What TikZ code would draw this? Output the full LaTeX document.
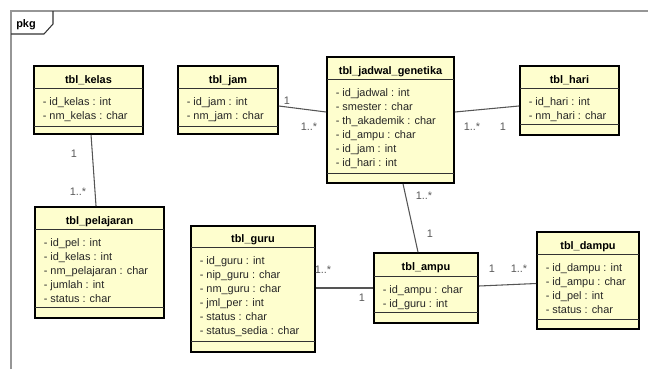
\documentclass[tikz,border=0pt]{standalone}
\usepackage{fontspec}
\setmainfont{Liberation Sans}
\usetikzlibrary{fit}
\definecolor{clsfill}{RGB}{254,254,206}
\definecolor{linegray}{RGB}{85,85,85}
\definecolor{labgray}{RGB}{90,90,90}
\definecolor{framegray}{RGB}{150,150,150}
\tikzset{
  cls/.style={draw=black, line width=1.3pt, fill=clsfill, inner sep=0pt},
  sepline/.style={draw=black!80, line width=0.7pt},
  titletext/.style={font=\fontsize{8.2}{10}\selectfont\bfseries, anchor=base, inner sep=0pt, text=black},
  attrtext/.style={font=\fontsize{8.2}{10.5}\selectfont, anchor=north west, align=left, inner sep=0pt, text=black!85},
  conn/.style={draw=linegray, line width=0.8pt},
  mult/.style={font=\fontsize{8.2}{10}\selectfont, text=labgray, inner sep=0pt}
}
% name, x1, y1, x2, y2, sep1, sep2, title, attributes
\newcommand\umlcls[9]{%
  \node[cls, fit={(#2,#3)(#4,#5)}] (#1) {};
  \draw[sepline] (#2,#6) -- (#4,#6);
  \draw[sepline] (#2,#7) -- (#4,#7);
  \node[titletext] (#1-t) at ({(#2+#4)/2},{(#3+#6)/2+6}) {#8};
  \node[attrtext] (#1-a) at (#2+8.5,#6+6.3) {\rule{0pt}{8pt}#9};
}
\begin{document}
\begin{tikzpicture}[x=0.75pt,y=-0.75pt]
\useasboundingbox (0,0) rectangle (648,369);
% frame
\draw[framegray, line width=0.8pt] (11,369) coordinate (fbl) -- (11,11) coordinate (ftl) -- (648,11) coordinate (ftr);
\draw[black!80, line width=0.8pt] (11,34) coordinate (tab1) -- (44,34) coordinate (tab2) -- (53,24) coordinate (tab3) -- (53,11) coordinate (tab4);
\node[font=\fontsize{8.2}{10}\selectfont\bfseries, anchor=base, inner sep=0pt] (pkg) at (26,27.5) {pkg};

% classes
\umlcls{kelas}{34}{66}{143}{134}{88}{126}{tbl\_kelas}{- id\_kelas : int\\- nm\_kelas : char}
\umlcls{jam}{178}{66}{278}{134}{88}{126}{tbl\_jam}{- id\_jam : int\\- nm\_jam : char}
\umlcls{jadwal}{327}{57}{454}{183}{79}{173}{tbl\_jadwal\_genetika}{- id\_jadwal : int\\- smester : char\\- th\_akademik : char\\- id\_ampu : char\\- id\_jam : int\\- id\_hari : int}
\umlcls{hari}{520}{66}{619}{135}{88}{124}{tbl\_hari}{- id\_hari : int\\- nm\_hari : char}
\umlcls{pel}{35}{207}{164}{318}{229}{307}{tbl\_pelajaran}{- id\_pel : int\\- id\_kelas : int\\- nm\_pelajaran : char\\- jumlah : int\\- status : char}
\umlcls{guru}{191}{226}{315}{352}{247}{341}{tbl\_guru}{- id\_guru : int\\- nip\_guru : char\\- nm\_guru : char\\- jml\_per : int\\- status : char\\- status\_sedia : char}
\umlcls{ampu}{374}{253}{478}{323}{276}{312}{tbl\_ampu}{- id\_ampu : char\\- id\_guru : int}
\umlcls{dampu}{537}{232}{639}{329}{254}{319}{tbl\_dampu}{- id\_dampu : int\\- id\_ampu : char\\- id\_pel : int\\- status : char}

% connectors
\draw[conn] ([xshift=1.9pt]kelas.south) -- ([xshift=-2.6pt]pel.north);
\draw[conn] ([yshift=-4.5pt]jam.east) -- ([yshift=6pt]jadwal.west);
\draw[conn] ([yshift=6pt]jadwal.east) -- ([yshift=-4.1pt]hari.west);
\draw[conn] ([xshift=9.4pt]jadwal.south) -- ([xshift=-6pt]ampu.north);
\draw[conn] (guru.east |- ampu.west) -- (ampu.west);
\draw[conn] ([yshift=1.5pt]ampu.east) -- ([yshift=-2.25pt]dampu.west);

% multiplicities
\node[mult] (m1) at (74,154) {1};
\node[mult] (m2) at (78,192) {1..*};
\node[mult] (m3) at (287,101) {1};
\node[mult] (m4) at (309,127) {1..*};
\node[mult] (m5) at (472,127) {1..*};
\node[mult] (m6) at (503,127) {1};
\node[mult] (m7) at (424,196) {1..*};
\node[mult] (m8) at (430,234) {1};
\node[mult] (m9) at (323,270) {1..*};
\node[mult] (m10) at (362,298) {1};
\node[mult] (m11) at (492,269) {1};
\node[mult] (m12) at (519,269) {1..*};
\end{tikzpicture}
\end{document}
